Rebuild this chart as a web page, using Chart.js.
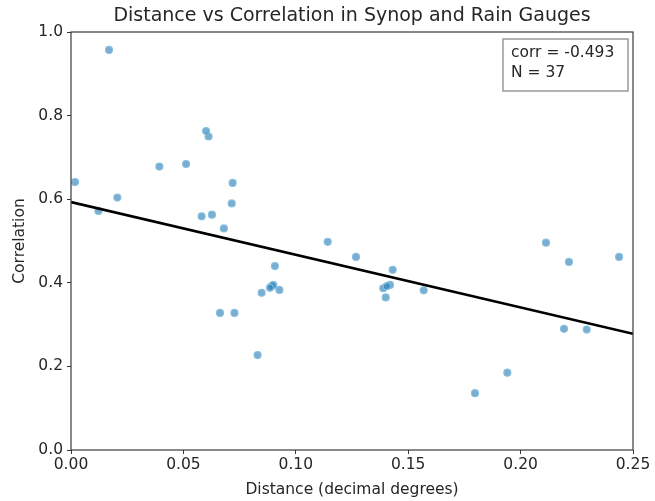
<!DOCTYPE html>
<html>
<head>
<meta charset="utf-8">
<script src="https://cdn.jsdelivr.net/npm/chart.js@4/dist/chart.umd.min.js"></script>
<style>
html,body{margin:0;padding:0;background:#fff;}
#c{display:block;}
</style>
</head>
<body>
<canvas id="c" width="655" height="501"></canvas>
<script>
const distances = [0.0018,0.0122,0.0169,0.0206,0.0393,0.0512,0.0581,0.0612,0.0601,0.0627,0.0680,0.0715,0.0719,
  0.0663,0.0727,0.0830,0.0848,0.0893,0.0900,0.0885,0.0927,0.0907,0.1142,0.1268,0.1431,0.1419,0.1389,0.1405,0.1400,
  0.1569,0.2113,0.2215,0.2438,0.2193,0.2294,0.1941,0.1797];
const correlations = [0.641,0.572,0.957,0.604,0.678,0.684,0.559,0.750,0.763,0.563,0.530,0.590,0.639,
  0.328,0.328,0.227,0.376,0.392,0.395,0.388,0.383,0.440,0.498,0.462,0.431,0.395,0.387,0.392,0.365,
  0.382,0.496,0.450,0.462,0.290,0.288,0.185,0.136];
const fitX = [0.0, 0.25];
const fitY = [0.593, 0.278];
const xTicks = [0.00,0.05,0.10,0.15,0.20,0.25];
const yTicks = [0.0,0.2,0.4,0.6,0.8,1.0];
const statLines = ['corr = -0.493','N = 37'];
const chartTitle = 'Distance vs Correlation in Synop and Rain Gauges';

const FONT = 'DejaVu Sans';
const textColor = '#262626';

const framePlugin = {
  id:'frame',
  afterDraw(chart){
    const {ctx, chartArea:a} = chart;
    ctx.save();
    ctx.strokeStyle = '#3a3a3a';
    ctx.lineWidth = 1.2;
    ctx.strokeRect(a.left, a.top, a.right-a.left, a.bottom-a.top);
    // title centred over plot area
    ctx.font = '19px "' + FONT + '"';
    ctx.fillStyle = textColor;
    ctx.textAlign = 'center';
    ctx.textBaseline = 'middle';
    ctx.fillText(chartTitle, (a.left+a.right)/2, 16);
    // stats box
    ctx.font = '15.5px "' + FONT + '"';
    const bx = 503, by = 39, bw = 125, bh = 52;
    ctx.fillStyle = 'rgba(255,255,255,0.85)';
    ctx.fillRect(bx,by,bw,bh);
    ctx.strokeStyle = '#9a9a9a';
    ctx.lineWidth = 1.5;
    ctx.strokeRect(bx,by,bw,bh);
    ctx.fillStyle = textColor;
    ctx.textBaseline = 'middle';
    ctx.textAlign = 'left';
    ctx.fillText(statLines[0], bx+8, by+14);
    ctx.fillText(statLines[1], bx+8, by+34);
    ctx.restore();
  }
};

new Chart(document.getElementById('c'), {
  type:'scatter',
  data:{
    datasets:[
      {
        type:'line',
        data: fitX.map((x,i)=>({x, y: fitY[i]})),
        borderColor:'#000',
        borderWidth:2.6,
        pointRadius:0,
        fill:false,
        order:0
      },
      {
        data: distances.map((x,i)=>({x, y: correlations[i]})),
        backgroundColor:'rgba(31,119,180,0.6)',
        borderColor:'rgba(130,190,220,0.9)',
        borderWidth:1.2,
        pointRadius:3.5,
        order:1
      }
    ]
  },
  options:{
    responsive:false,
    animation:false,
    layout:{padding:{left:0,right:22,top:32,bottom:0}},
    plugins:{
      legend:{display:false},
      tooltip:{enabled:false},
      title:{display:false}
    },
    scales:{
      x:{
        type:'linear',
        min:0, max:0.25,
        afterBuildTicks(s){ s.ticks = xTicks.map(v=>({value:v})); },
        afterFit(s){ s.height = 51; },
        grid:{drawOnChartArea:false, drawTicks:true, tickLength:4, color:'#333'},
        border:{display:false},
        ticks:{color:textColor, font:{family:FONT,size:15.5}, padding:2, maxRotation:0,
          callback:v=>Number(v).toFixed(2)},
        title:{display:true, text:'Distance (decimal degrees)', color:textColor,
          font:{family:FONT,size:15.5}, padding:{top:0,bottom:1.7}}
      },
      y:{
        min:0, max:1.0,
        afterBuildTicks(s){ s.ticks = yTicks.map(v=>({value:v})); },
        afterFit(s){ s.width = 71; },
        grid:{drawOnChartArea:false, drawTicks:true, tickLength:4, color:'#333'},
        border:{display:false},
        ticks:{color:textColor, font:{family:FONT,size:15.5}, padding:4,
          callback:v=>Number(v).toFixed(1)},
        title:{display:true, text:'Correlation', color:textColor,
          font:{family:FONT,size:15.5}, padding:{top:10.7,bottom:0}}
      }
    }
  },
  plugins:[framePlugin]
});
</script>
</body>
</html>
